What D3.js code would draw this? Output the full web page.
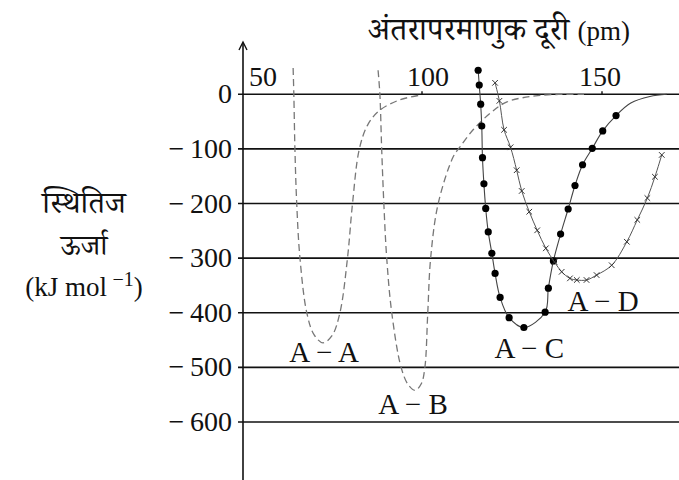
<!doctype html>
<html lang="hi">
<head>
<meta charset="utf-8">
<title>स्थितिज ऊर्जा वक्र</title>
<script src="https://cdn.jsdelivr.net/npm/d3@7"></script>
<style>
  body { margin: 0; background: #fff; }
  .tick-label, .curve-label { font-family: "Liberation Serif", "DejaVu Serif", serif; font-size: 28px; fill: #111; }
  .curve-label { font-size: 29px; }
  .hi { font-family: "Noto Serif Devanagari", "Noto Sans Devanagari", "Lohit Devanagari", "Noto Sans", serif; font-size: 31px; fill: #111; }
</style>
</head>
<body>
<svg width="679" height="480"></svg>
<script>
// energy ticks (kJ/mol) and distance ticks (pm)
var yTicks = [0, -100, -200, -300, -400, -500, -600];
var xTicks = [50, 100, 150];

// A-A (dashed)
var aaPm = [64.2, 64.4, 64.7, 65.2, 66.1, 68, 70, 72.5, 75, 77.2, 79.3, 80.7, 82.6, 85, 88.3, 93.9, 100];
var aaE  = [48, 0, -100, -200, -300, -400, -440, -455, -442, -400, -300, -200, -100, -55, -29, -10, -1];

// A-B (dashed)
var abPm = [87.8, 88.3, 88.8, 89.4, 90.2, 91.6, 94.2, 96.2, 98.1, 99.8, 100.8, 101.6, 102.4, 104.5, 108.7, 110.6, 114.2, 118.9, 123.6, 132.8, 145];
var abE  = [44, 0, -100, -200, -300, -400, -500, -532, -542, -530, -500, -400, -300, -200, -114, -96, -65, -35, -14, -2, 0];

// A-C (dots)
var acPm = [115.6, 115.9, 116.3, 116.6, 116.8, 117.2, 117.7, 118.4, 119.4, 120.3, 121.7, 124.2, 128.3, 134.2, 135.1, 136.5, 138.5, 140.6, 142.5, 144.6, 147.3, 150.2, 153.9];
var acE  = [44, 17, -18, -58, -116, -164, -209, -252, -291, -328, -372, -409, -427, -399, -355, -305, -256, -210, -167, -129, -99, -67, -39];
var acTailPm = [158, 163.3, 168];
var acTailE  = [-16, -4, 0];

// A-D (crosses)
var adPm = [120.3, 121.5, 122.8, 124.6, 126.3, 127.7, 129.8, 132, 134.4, 136.8, 138.8, 141.1, 143, 145.7, 148.5, 152.7, 156.9, 159.8, 162.6, 164.7, 166.6];
var adE  = [21, -12, -65, -97, -139, -177, -215, -249, -282, -307, -325, -337, -340, -340, -331, -313, -270, -230, -190, -151, -111];

var curveLabels = ["A − A", "A − B", "A − C", "A − D"];
var labelPm = [72.8, 97.5, 129.8, 150.3];
var labelE  = [-491, -585, -482, -396];

var svg = d3.select("svg"),
    width = +svg.attr("width"),
    height = +svg.attr("height");

var x = d3.scaleLinear().domain([50, 170]).range([242, 674]);
var y = d3.scaleLinear().domain([0, -600]).range([94.3, 422]);

function pts(a, b) { return a.map(function(v, i) { return [v, b[i]]; }); }

var line = d3.line()
    .x(function(d) { return x(d[0]); })
    .y(function(d) { return y(d[1]); })
    .curve(d3.curveCatmullRom.alpha(0.5));

// grid lines
svg.append("g").selectAll("line")
    .data(yTicks)
  .enter().append("line")
    .attr("x1", x(50) - 4).attr("x2", width)
    .attr("y1", function(d) { return y(d); })
    .attr("y2", function(d) { return y(d); })
    .attr("stroke", "#111")
    .attr("stroke-width", 1.6);

// vertical axis with arrow
svg.append("line")
    .attr("x1", x(50) + 1).attr("x2", x(50) + 1)
    .attr("y1", 43).attr("y2", height)
    .attr("stroke", "#111").attr("stroke-width", 1.6);
svg.append("path")
    .attr("d", "M" + (x(50) - 3) + ",50L" + (x(50) + 1) + ",42L" + (x(50) + 5) + ",50")
    .attr("fill", "none").attr("stroke", "#111").attr("stroke-width", 1.4);

// small x ticks on the zero line
svg.append("g").selectAll("line")
    .data(xTicks.slice(1))
  .enter().append("line")
    .attr("x1", function(d) { return x(d); }).attr("x2", function(d) { return x(d); })
    .attr("y1", y(0) - 3).attr("y2", y(0))
    .attr("stroke", "#111").attr("stroke-width", 1.4);

// tick labels
svg.append("g").selectAll("text")
    .data(yTicks)
  .enter().append("text")
    .attr("class", "tick-label")
    .attr("x", 232)
    .attr("y", function(d) { return y(d) + 9; })
    .attr("text-anchor", "end")
    .text(function(d) { return d === 0 ? "0" : "−\u2009" + Math.abs(d); });

var xOff = [21, 6, -2];
svg.append("g").selectAll("text")
    .data(xTicks)
  .enter().append("text")
    .attr("class", "tick-label")
    .attr("x", function(d, i) { return x(d) + xOff[i]; })
    .attr("y", y(0) - 8)
    .attr("text-anchor", "middle")
    .text(function(d) { return d; });

// dashed curves
[pts(aaPm, aaE), pts(abPm, abE)].forEach(function(p) {
  svg.append("path")
      .datum(p)
      .attr("d", line)
      .attr("fill", "none")
      .attr("stroke", "#777")
      .attr("stroke-width", 1.3)
      .attr("stroke-dasharray", "7,4");
});

// A-C
svg.append("path")
    .datum(pts(acPm, acE).concat(pts(acTailPm, acTailE)))
    .attr("d", line)
    .attr("fill", "none").attr("stroke", "#444").attr("stroke-width", 1.1);
svg.append("g").selectAll("circle")
    .data(pts(acPm, acE))
  .enter().append("circle")
    .attr("cx", function(d) { return x(d[0]); })
    .attr("cy", function(d) { return y(d[1]); })
    .attr("r", 3.6)
    .attr("fill", "#000");

// A-D
svg.append("path")
    .datum(pts(adPm, adE))
    .attr("d", line)
    .attr("fill", "none").attr("stroke", "#555").attr("stroke-width", 1);
svg.append("g").selectAll("path")
    .data(pts(adPm, adE))
  .enter().append("path")
    .attr("transform", function(d) { return "translate(" + x(d[0]) + "," + y(d[1]) + ")"; })
    .attr("d", "M-2.8,-2.8L2.8,2.8M-2.8,2.8L2.8,-2.8")
    .attr("stroke", "#333").attr("stroke-width", 1);

// curve labels
svg.append("g").selectAll("text")
    .data(curveLabels)
  .enter().append("text")
    .attr("class", "curve-label")
    .attr("x", function(d, i) { return x(labelPm[i]); })
    .attr("y", function(d, i) { return y(labelE[i]); })
    .attr("text-anchor", "middle")
    .text(function(d) { return d; });

// axis titles
var t = svg.append("text").attr("class", "hi")
    .attr("x", 499).attr("y", 40).attr("text-anchor", "middle")
    .style("font-size", "32px");
t.append("tspan").text("अंतरापरमाणुक दूरी ");
t.append("tspan").attr("class", "tick-label").style("font-size", "27px").text("(pm)");

svg.append("text").attr("class", "hi")
    .attr("x", 84).attr("y", 213).attr("text-anchor", "middle")
    .text("स्थितिज");
svg.append("text").attr("class", "hi")
    .attr("x", 84).attr("y", 255).attr("text-anchor", "middle")
    .style("font-size", "29px")
    .text("ऊर्जा");
var u = svg.append("text").attr("class", "tick-label")
    .attr("x", 84).attr("y", 296).attr("text-anchor", "middle")
    .style("font-size", "27px");
u.append("tspan").text("(kJ mol\u2009");
u.append("tspan").attr("dy", -10).style("font-size", "20px").text("−1");
u.append("tspan").attr("dy", 10).text(")");
</script>
</body>
</html>
